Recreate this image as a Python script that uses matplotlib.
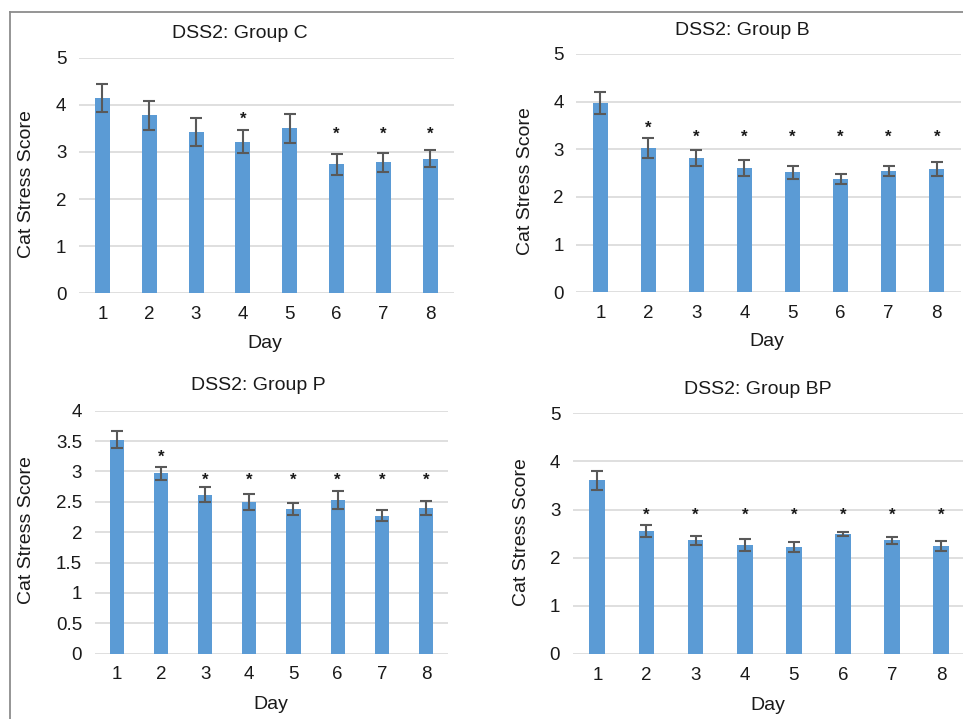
import matplotlib
matplotlib.use("Agg")
import matplotlib.pyplot as plt
from matplotlib.lines import Line2D

plt.rcParams['font.family'] = ['Liberation Sans', 'DejaVu Sans']

days = [1, 2, 3, 4, 5, 6, 7, 8]

titles = ["DSS2: Group C", "DSS2: Group B", "DSS2: Group P", "DSS2: Group BP"]

mean_c = [4.14, 3.78, 3.42, 3.22, 3.50, 2.74, 2.78, 2.86]
err_c = [0.30, 0.31, 0.29, 0.24, 0.31, 0.22, 0.20, 0.18]
star_c = [None, None, None, 3.70, None, 3.38, 3.38, 3.38]

mean_b = [3.97, 3.03, 2.82, 2.61, 2.52, 2.38, 2.55, 2.59]
err_b = [0.23, 0.21, 0.17, 0.17, 0.14, 0.11, 0.11, 0.15]
star_b = [None, 3.45, 3.26, 3.26, 3.26, 3.26, 3.26, 3.26]

mean_p = [3.52, 2.97, 2.62, 2.50, 2.38, 2.53, 2.27, 2.40]
err_p = [0.14, 0.11, 0.13, 0.13, 0.10, 0.14, 0.09, 0.12]
star_p = [None, 3.24, 2.86, 2.86, 2.86, 2.86, 2.86, 2.86]

mean_bp = [3.61, 2.55, 2.36, 2.26, 2.22, 2.49, 2.36, 2.24]
err_bp = [0.20, 0.12, 0.10, 0.12, 0.10, 0.04, 0.07, 0.10]
star_bp = [None, 2.88, 2.88, 2.88, 2.88, 2.88, 2.88, 2.88]

yticks_5 = [0, 1, 2, 3, 4, 5]
yticks_4 = [0, 0.5, 1, 1.5, 2, 2.5, 3, 3.5, 4]
ytick_labels_4 = ["0", "0.5", "1", "1.5", "2", "2.5", "3", "3.5", "4"]

W, H = 963, 719
fig = plt.figure(figsize=(W / 100, H / 100), dpi=100)

def rect(x0, x1, ytop, ybot):
    return [x0 / W, 1 - ybot / H, (x1 - x0) / W, (ybot - ytop) / H]

def fx(x):
    return x / W

def fy(y):
    return 1 - y / H

panels = [
    dict(means=mean_c, errs=err_c, stars=star_c, title=titles[0],
         rect=rect(78.9, 453.7, 57.7, 293.3), ymax=5, yt=yticks_5, ytl=None,
         tpos=(240.3, 33.3), ylpos=(26.7, 184), xlpos=(265, 343.3)),
    dict(means=mean_b, errs=err_b, stars=star_b, title=titles[1],
         rect=rect(576.3, 960.7, 54.0, 292.3), ymax=5, yt=yticks_5, ytl=None,
         tpos=(742.5, 30.7), ylpos=(525, 180.8), xlpos=(767, 341.7)),
    dict(means=mean_p, errs=err_p, stars=star_p, title=titles[2],
         rect=rect(94.6, 448.1, 410.7, 653.7), ymax=4, yt=yticks_4, ytl=ytick_labels_4,
         tpos=(258.8, 386), ylpos=(26.7, 530), xlpos=(270.7, 704.3)),
    dict(means=mean_bp, errs=err_bp, stars=star_bp, title=titles[3],
         rect=rect(572.75, 965.85, 413.3, 654.0), ymax=5, yt=yticks_5, ytl=None,
         tpos=(757.8, 389.3), ylpos=(521.7, 532.5), xlpos=(768.3, 705)),
]

bar_color = "#5b9bd5"
err_color = "#595959"
grid_color = "#d9d9d9"
text_color = "#1a1a1a"

for p in panels:
    ax = fig.add_axes(p["rect"])
    ax.set_facecolor("none")
    ax.bar(days, p["means"], width=0.32, color=bar_color, zorder=3)
    ax.errorbar(days, p["means"], yerr=p["errs"], fmt="none", ecolor=err_color,
                elinewidth=1.5, capsize=4.3, capthick=1.5, zorder=4)
    for d, s in zip(days, p["stars"]):
        if s is not None:
            ax.text(d, s, "*", ha="center", va="center", fontsize=12,
                    fontweight="bold", color=text_color, zorder=5)
    ax.set_xlim(0.5, 8.5)
    ax.set_ylim(0, p["ymax"])
    ax.set_yticks(p["yt"])
    if p["ytl"] is not None:
        ax.set_yticklabels(p["ytl"])
    ax.set_xticks(days)
    ax.grid(axis="y", color=grid_color, linewidth=1.2, zorder=0)
    ax.set_axisbelow(True)
    for sp in ax.spines.values():
        sp.set_visible(False)
    ax.tick_params(axis="both", length=0, labelsize=13.5, colors=text_color)
    ax.tick_params(axis="y", pad=9)
    ax.tick_params(axis="x", pad=9)
    fig.text(fx(p["tpos"][0]), fy(p["tpos"][1]), p["title"], ha="center", va="center",
             fontsize=14, color=text_color)
    fig.text(fx(p["ylpos"][0]), fy(p["ylpos"][1]), "Cat Stress Score", ha="center",
             va="center", rotation=90, fontsize=14, color=text_color)
    fig.text(fx(p["xlpos"][0]), fy(p["xlpos"][1]), "Day", ha="center", va="center",
             fontsize=14, color=text_color)

# outer border lines
fig.add_artist(Line2D([fx(9.5), 1.0], [fy(12), fy(12)], color="#8c8c8c", linewidth=1.3,
                      transform=fig.transFigure))
fig.add_artist(Line2D([fx(9.5), fx(9.5)], [fy(12), 0.0], color="#8c8c8c", linewidth=1.3,
                      transform=fig.transFigure))

fig.savefig("out.png", dpi=100)
